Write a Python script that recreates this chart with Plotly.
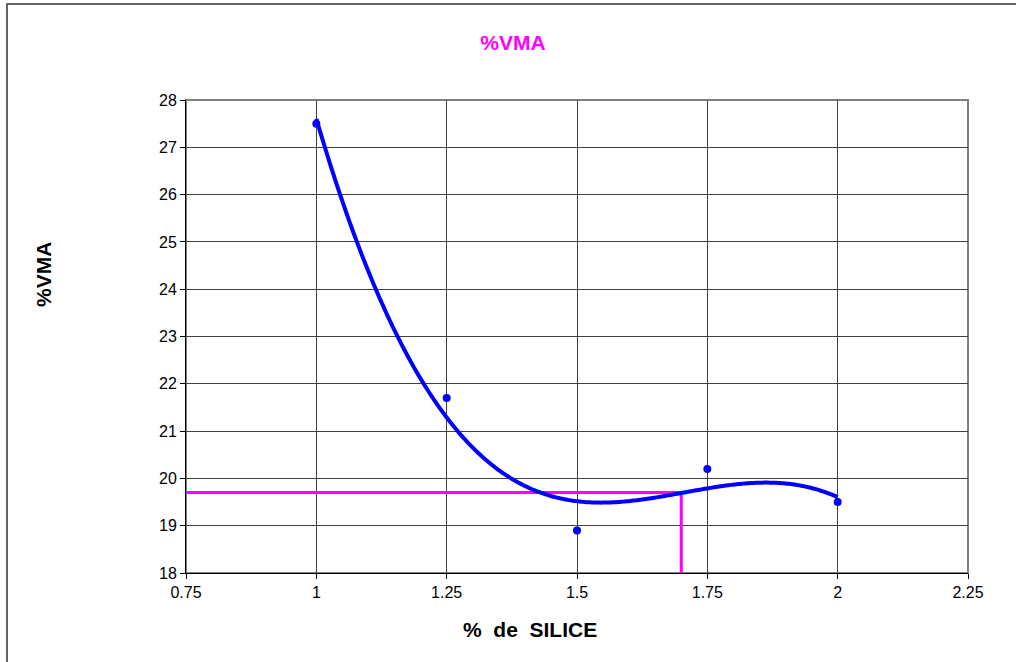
import numpy as np
import plotly.graph_objects as go

# data
silice = [1.0, 1.25, 1.5, 1.75, 2.0]
vma = [27.5, 21.7, 18.9, 20.2, 19.5]
target_vma = 19.7
target_silice = 1.70
x_ticks = [0.75, 1, 1.25, 1.5, 1.75, 2, 2.25]
x_tick_labels = ["0.75", "1", "1.25", "1.5", "1.75", "2", "2.25"]
y_ticks = list(range(18, 29))

# polynomial (order 3) trendline computed from the data
coef = np.polyfit(silice, vma, 3)
xs = np.linspace(min(silice), max(silice), 300)
ys = np.polyval(coef, xs)

fig = go.Figure()
fig.add_trace(go.Scatter(x=[x_ticks[0], target_silice, target_silice],
                         y=[target_vma, target_vma, y_ticks[0]],
                         mode="lines", line=dict(color="#FF00FF", width=3),
                         hoverinfo="skip", showlegend=False))
fig.add_trace(go.Scatter(x=xs, y=ys, mode="lines",
                         line=dict(color="#0000FF", width=4, simplify=False),
                         showlegend=False))
fig.add_trace(go.Scatter(x=silice, y=vma, mode="markers",
                         marker=dict(color="#0000FF", size=8),
                         showlegend=False))

L, R, T, B = 186, 48, 100, 89
W, H = 1016, 662
pw, ph = W - L - R, H - T - B

def px(x):
    return (x - L) / pw

def py(y):
    return (H - B - y) / ph

fig.update_layout(
    width=W, height=H,
    margin=dict(l=L, r=R, t=T, b=B),
    paper_bgcolor="white", plot_bgcolor="white",
    font=dict(family="Liberation Sans, Arial, sans-serif", color="black", size=16),
    title=dict(text="<b>%VMA</b>", x=(513) / W, xanchor="center",
               y=1 - 43 / H, yanchor="middle",
               font=dict(color="#FF00FF", size=21)),
    xaxis=dict(range=[0.75, 2.25], tickvals=x_ticks, ticktext=x_tick_labels,
               showgrid=True, gridcolor="#404040", gridwidth=1,
               ticks="outside", ticklen=5, tickcolor="black",
               tickfont=dict(size=16),
               showline=True, linecolor="black", linewidth=1,
               zeroline=False),
    yaxis=dict(range=[18, 28], tickvals=y_ticks,
               showgrid=True, gridcolor="#404040", gridwidth=1,
               ticks="outside", ticklen=5, tickcolor="black",
               tickfont=dict(size=16),
               showline=True, linecolor="black", linewidth=1,
               zeroline=False),
    annotations=[
        dict(text="<b>%  de  SILICE</b>", xref="paper", yref="paper",
             x=px(530), y=py(629), xanchor="center", yanchor="middle",
             showarrow=False, font=dict(size=21)),
        dict(text="<b>%VMA</b>", xref="paper", yref="paper",
             x=px(43), y=py(275), xanchor="center", yanchor="middle",
             textangle=-90, showarrow=False, font=dict(size=21)),
    ],
    shapes=[
        dict(type="rect", xref="paper", yref="paper", x0=0, x1=1, y0=0, y1=1,
             line=dict(color="#808080", width=2), layer="below"),
        dict(type="path", xref="paper", yref="paper",
             path=f"M {px(7)},{py(662)} L {px(7)},{py(4)} L {px(1016)},{py(4)}",
             line=dict(color="#333333", width=1.5)),
    ],
)

fig.write_html("out.html")
